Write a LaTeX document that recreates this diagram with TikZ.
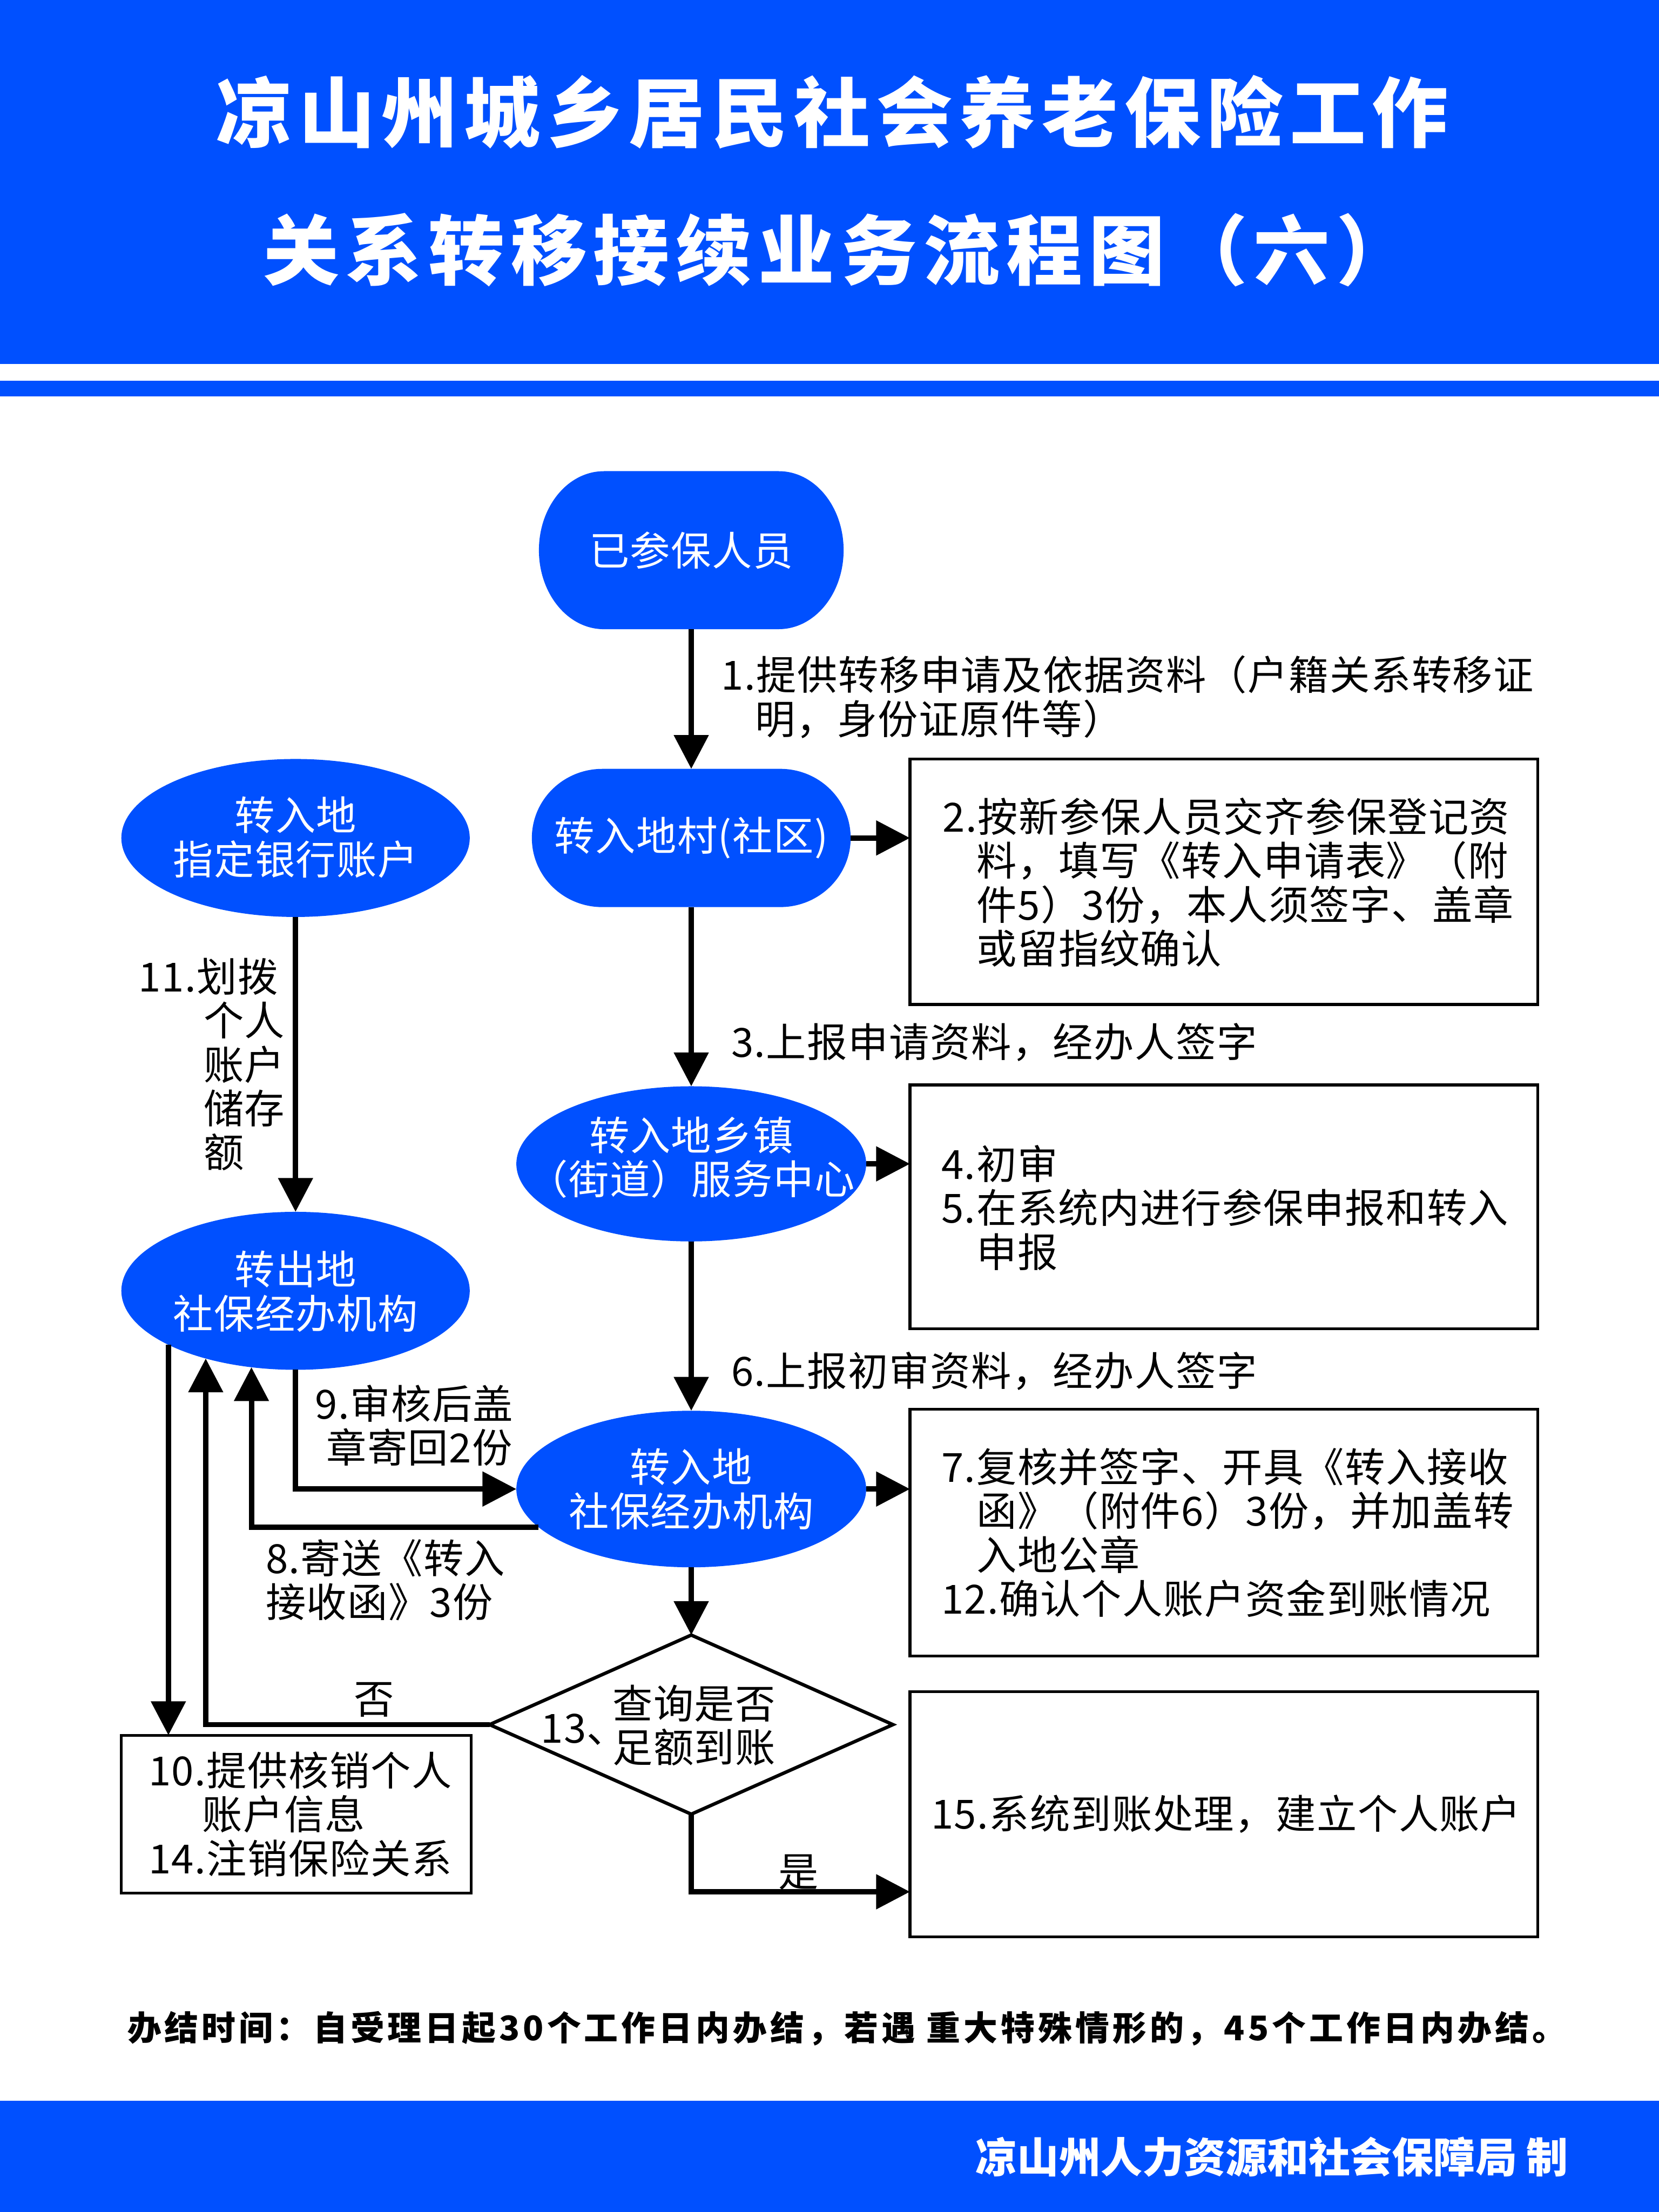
\documentclass[tikz,border=0pt]{standalone}
\usepackage{fontspec}
\setmainfont{Noto Sans CJK SC}
\newfontfamily\myBody{Noto Sans CJK SC}[LetterSpace=2]
\newfontfamily\myTitle{Noto Sans CJK SC}[LetterSpace=8.5]
\newfontfamily\myNote{Noto Sans CJK SC}[LetterSpace=9.5]
\newfontfamily\myFoot{Noto Sans CJK SC}
\usetikzlibrary{arrows.meta,shapes.geometric}
\definecolor{hblue}{RGB}{0,80,255}
\newcommand\bodyf{\myBody\fontsize{16.2pt}{17.75pt}\selectfont}
\tikzset{
 conn/.style={line width=2.16pt,-{Triangle[length=0.48cm,width=0.48cm]}},
 boxn/.style={draw,line width=1.14pt,minimum width=8.9cm,inner sep=0,outer sep=0},
 elln/.style={ellipse,fill=hblue,inner sep=0,outer sep=0,minimum width=4.96cm},
 wt/.style={text=white,align=center,inner sep=0,font=\bodyf},
 bt/.style={text=black,align=left,inner sep=0,font=\bodyf},
}
\begin{document}
\begin{tikzpicture}[x=0.02cm,y=-0.02cm]
\useasboundingbox (0,0) rectangle (1176,1568);
\fill[white] (0,0) rectangle (1176,1568);
% header and footer bands
\fill[hblue] (0,0) rectangle (1176,258);
\fill[hblue] (0,270) rectangle (1176,281);
\fill[hblue] (0,1489) rectangle (1176,1568);
\node[text=white,inner sep=0,font={\myTitle\bfseries\fontsize{30.7pt}{32pt}\selectfont}] (t1) at (590,79.5) {凉山州城乡居民社会养老保险工作};
\node[text=white,inner sep=0,font={\myTitle\bfseries\fontsize{30.7pt}{32pt}\selectfont}] (t2) at (594,177) {关系转移接续业务流程图（六）};
\node[anchor=west,text=black,inner sep=0,font={\myNote\bfseries\fontsize{13.7pt}{15pt}\selectfont}] (note) at (90,1438) {办结时间：自受理日起30个工作日内办结，若遇 重大特殊情形的，45个工作日内办结。};
\node[anchor=east,text=white,inner sep=0,font={\myFoot\bfseries\fontsize{16.8pt}{18pt}\selectfont}] (foot) at (1112,1529) {凉山州人力资源和社会保障局 制};

% pill shapes
\fill[hblue] (428,334) -- (552,334) arc[start angle=90,end angle=-90,x radius=0.92cm,y radius=1.12cm] -- (428,446) arc[start angle=270,end angle=90,x radius=0.92cm,y radius=1.12cm] -- cycle;
\node[minimum width=4.32cm,minimum height=2.24cm,inner sep=0,outer sep=0] (A) at (490,390) {};
\node[wt] (At) at (490,390) {已参保人员};
\fill[hblue] (427,545) -- (553,545) arc[start angle=90,end angle=-90,x radius=1.0cm,y radius=0.98cm] -- (427,643) arc[start angle=270,end angle=90,x radius=1.0cm,y radius=0.98cm] -- cycle;
\node[minimum width=4.52cm,minimum height=1.96cm,inner sep=0,outer sep=0] (B) at (490,594) {};
\node[wt] (Bt) at (490,594) {转入地村(社区)};

% ellipses
\node[elln,minimum height=2.2cm] (C) at (490,825) {};
\node[wt] (Ct) at (490,820.5) {转入地乡镇\\（街道）服务中心};
\node[elln,minimum height=2.22cm] (D) at (490,1055.5) {};
\node[wt] (Dt) at (490,1055.5) {转入地\\社保经办机构};
\node[elln,minimum width=4.94cm,minimum height=2.24cm] (E) at (209.5,594) {};
\node[wt] (Et) at (209.5,593.5) {转入地\\指定银行账户};
\node[elln,minimum width=4.94cm,minimum height=2.24cm] (F) at (209.5,915) {};
\node[wt] (Ft) at (209.5,915.5) {转出地\\社保经办机构};

% diamond
\node[diamond,draw,line width=1.37pt,minimum width=5.72cm,minimum height=2.54cm,inner sep=0,outer sep=0] (G) at (490,1222.5) {};
\node[bt,align=center] (Gt) at (492,1223) {查询是否\\足额到账};
\node[bt,anchor=west] (Gn) at (383,1226) {\makebox[0.8cm][l]{13、}};

% boxes
\node[boxn,minimum height=3.48cm] (box2) at (867.5,625) {};
\node[bt,anchor=west] (T2) at (668,625.5) {2.按新参保人员交齐参保登记资\\\hspace*{0.48cm}料，填写《转入申请表》（附\\\hspace*{0.48cm}件5）3份，本人须签字、盖章\\\hspace*{0.48cm}或留指纹确认};
\node[boxn,minimum height=3.46cm] (box4) at (867.5,855.5) {};
\node[bt,anchor=west] (T4) at (667,856) {4.初审\\5.在系统内进行参保申报和转入\\\hspace*{0.5cm}申报};
\node[boxn,minimum height=3.5cm] (box7) at (867.5,1086.5) {};
\node[bt,anchor=west] (T7) at (667,1086.5) {7.复核并签字、开具《转入接收\\\hspace*{0.5cm}函》（附件6）3份，并加盖转\\\hspace*{0.5cm}入地公章\\12.确认个人账户资金到账情况};
\node[boxn,minimum height=3.48cm] (box15) at (867.5,1286) {};
\node[bt] (T15) at (869,1286) {15.系统到账处理，建立个人账户};
\node[boxn,minimum width=4.96cm,minimum height=2.24cm] (box10) at (210,1286) {};
\node[bt,anchor=west] (T10) at (105,1286) {10.提供核销个人\\\hspace*{0.76cm}账户信息\\14.注销保险关系};

% connector labels
\node[bt,anchor=west] (L1) at (511,494) {1.提供转移申请及依据资料（户籍关系转移证\\\hspace*{0.48cm}明，身份证原件等）};
\node[bt,anchor=west] (L3) at (518,739) {3.上报申请资料，经办人签字};
\node[bt,anchor=west] (L6) at (518,972) {6.上报初审资料，经办人签字};
\node[bt,anchor=west] (L11) at (98,754.5) {11.划拨\\\hspace*{0.92cm}个人\\\hspace*{0.92cm}账户\\\hspace*{0.92cm}储存\\\hspace*{0.92cm}额};
\node[bt,anchor=west] (L9) at (223,1010.5) {9.审核后盖\\\hspace*{0.16cm}章寄回2份};
\node[bt,anchor=west] (L8) at (188,1120) {8.寄送《转入\\接收函》3份};
\node[bt] (Lno) at (265,1205) {否};
\node[bt] (Lyes) at (566,1327) {是};

% connectors
\draw[conn] (A.south) -- (B.north);
\draw[conn] (B.east) -- (B.east -| box2.west);
\draw[conn] (B.south) -- (C.north);
\draw[conn] (C.east) -- (C.east -| box4.west);
\draw[conn] (C.south) -- (D.north);
\draw[conn] (D.east) -- (D.east -| box7.west);
\draw[conn] (D.south) -- (G.north);
\draw[conn] (G.south) |- ([yshift=-1.1cm]box15.west);
\draw[conn] (G.west) -| (F.217.3);
\draw[conn] (F.203.7) -- (F.203.7 |- box10.north);
\draw[conn] (D.194.7) -| (F.240.9);
\draw[conn] (F.south) |- (D.west);
\draw[conn] (E.south) -- (F.north);
\end{tikzpicture}
\end{document}
